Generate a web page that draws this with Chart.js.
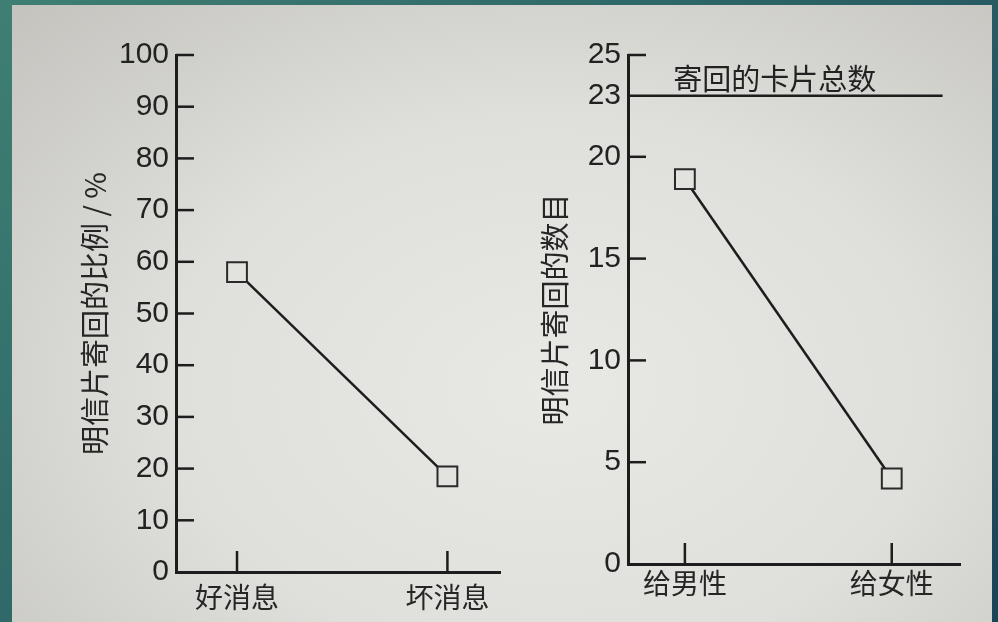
<!DOCTYPE html>
<html>
<head>
<meta charset="utf-8">
<script src="https://cdn.jsdelivr.net/npm/chart.js@4"></script>
<style>
  html, body { margin: 0; padding: 0; }
  body {
    width: 998px; height: 622px; overflow: hidden; position: relative;
    background: linear-gradient(135deg, #3f7f73 0%, #2d6567 45%, #1b4457 100%);
  }
  #page {
    position: absolute; left: 12px; top: 5px; width: 980px; height: 617px;
    background: radial-gradient(ellipse at 55% 62%, #e8e8e5 0%, #dfdfdb 50%, #c4c3be 100%);
  }
  canvas { position: absolute; top: 0; }
  #newsChart { left: 0; }
  #genderChart { left: 500px; }
</style>
</head>
<body>
<div id="page"></div>
<canvas id="newsChart" width="520" height="622"></canvas>
<canvas id="genderChart" width="490" height="622"></canvas>
<script>
// ---- data: left panel (share of postcards returned, %) ----
const newsLabels = ['好消息', '坏消息'];
const newsPct = [58, 18.5];
const pctTicks = [0, 10, 20, 30, 40, 50, 60, 70, 80, 90, 100];
const pctTitle = '明信片寄回的比例 / %';

// ---- data: right panel (number of postcards returned) ----
const genderLabels = ['给男性', '给女性'];
const genderCount = [18.9, 4.2];
const countTicks = [0, 5, 10, 15, 20, 23, 25];
const countTitle = '明信片寄回的数目';
const totalCards = 23;
const totalLabel = '寄回的卡片总数';

const INK = '#1d1d1d';
const PAPER = '#e2e2de';
const NUM_FONT = { family: '"Liberation Sans", Arial, sans-serif', size: 30 };
const CJK_FONT = { family: '"Noto Sans CJK SC", sans-serif', size: 28 };
const TITLE_FONT = { family: '"Noto Sans CJK SC", sans-serif', size: 29 };

// tick marks point inward (right of y axis, up from x axis) like the print
const inwardTicks = {
  id: 'inwardTicks',
  afterDraw(chart, args, opts) {
    const { ctx, chartArea } = chart;
    const xs = chart.scales.x, ys = chart.scales.y;
    ctx.save();
    ctx.strokeStyle = INK;
    ctx.lineWidth = 2.5;
    ys.ticks.forEach(t => {
      if (t.value === 0 || (opts.skip || []).includes(t.value)) return;
      const y = ys.getPixelForValue(t.value);
      ctx.beginPath(); ctx.moveTo(chartArea.left, y); ctx.lineTo(chartArea.left + 18, y); ctx.stroke();
    });
    xs.ticks.forEach(t => {
      const x = xs.getPixelForValue(t.value);
      ctx.beginPath(); ctx.moveTo(x, chartArea.bottom); ctx.lineTo(x, chartArea.bottom - 21); ctx.stroke();
    });
    if (opts.label) {
      ctx.fillStyle = '#222';
      ctx.font = `${TITLE_FONT.size}px ${TITLE_FONT.family}`;
      ctx.textAlign = 'center';
      ctx.textBaseline = 'bottom';
      ctx.fillText(opts.label.text, xs.getPixelForValue(opts.label.x), ys.getPixelForValue(opts.label.y) - 2);
    }
    ctx.restore();
  }
};

function makeChart(id, o) {
  const points = o.values.map((v, i) => ({ x: i, y: v }));
  const datasets = [{
    data: points,
    borderColor: INK, borderWidth: 2.5,
    pointStyle: 'rect', pointRadius: 14, pointHoverRadius: 14,
    pointBackgroundColor: PAPER, pointBorderColor: '#2a2a2a', pointBorderWidth: 2
  }].concat(o.extra || []);

  return new Chart(document.getElementById(id), {
    type: 'line',
    data: { datasets },
    options: {
      responsive: false, animation: false,
      layout: { padding: { top: o.top, right: o.right, left: 0, bottom: 0 } },
      plugins: { legend: { display: false }, tooltip: { enabled: false }, inwardTicks: o.tickOpts },
      scales: {
        x: {
          type: 'linear', min: o.xMin, max: o.xMax,
          afterBuildTicks: s => { s.ticks = o.labels.map((l, i) => ({ value: i })); },
          afterFit: s => { s.height = o.xHeight; },
          grid: { display: false, drawTicks: false },
          border: { color: INK, width: 3 },
          ticks: { callback: v => o.labels[v], font: CJK_FONT, color: '#262626', padding: o.xPad, maxRotation: 0 }
        },
        y: {
          min: o.yTicks[0], max: o.yTicks[o.yTicks.length - 1],
          afterBuildTicks: s => { s.ticks = o.yTicks.map(v => ({ value: v })); },
          afterFit: s => { s.width = o.yWidth; },
          grid: { display: false, drawTicks: false },
          border: { color: INK, width: 3 },
          ticks: { font: NUM_FONT, color: '#222', padding: 7 },
          title: { display: true, text: o.title, font: TITLE_FONT, color: '#262626', padding: { top: o.titlePad, bottom: 0 } }
        }
      }
    },
    plugins: [inwardTicks]
  });
}

makeChart('newsChart', {
  labels: newsLabels, values: newsPct, yTicks: pctTicks, title: pctTitle,
  top: 55, right: 20, xHeight: 50, yWidth: 176, xMin: -0.29, xMax: 1.25,
  xPad: 9, titlePad: 78, tickOpts: {}
});

makeChart('genderChart', {
  labels: genderLabels, values: genderCount, yTicks: countTicks, title: countTitle,
  top: 55, right: 30, xHeight: 58, yWidth: 128, xMin: -0.275, xMax: 1.33,
  xPad: 3, titlePad: 38,
  tickOpts: { skip: [totalCards], label: { text: totalLabel, x: 0.435, y: totalCards } },
  extra: [{
    data: [{ x: -0.275, y: totalCards }, { x: 1.246, y: totalCards }],
    borderColor: INK, borderWidth: 2.5, pointRadius: 0
  }]
});
</script>
</body>
</html>
